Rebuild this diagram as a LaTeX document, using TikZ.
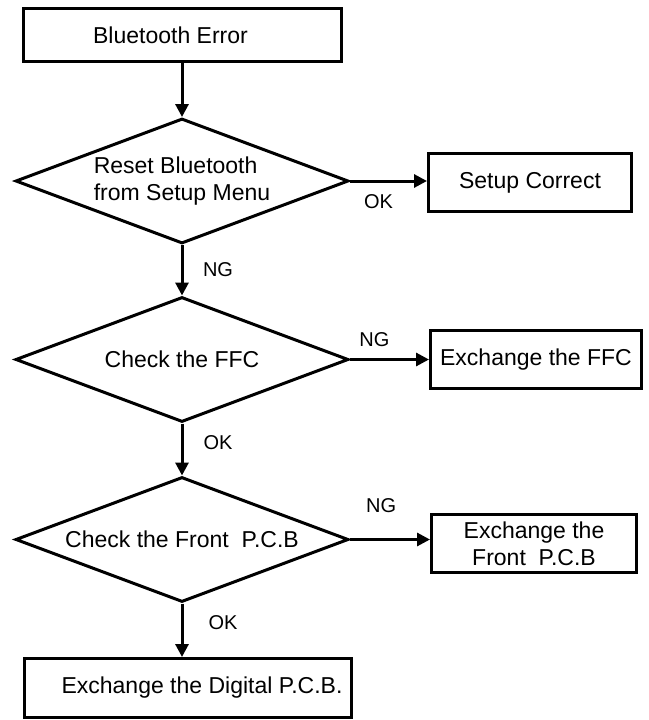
\documentclass[tikz,border=0pt]{standalone}
\usepackage{fontspec}
\setmainfont{Liberation Sans}
\usetikzlibrary{shapes.geometric,arrows.meta}
\begin{document}
\begin{tikzpicture}[x=1pt,y=-1pt,
  every node/.style={font=\fontsize{23pt}{27pt}\selectfont},
  boxnode/.style={draw, line width=3pt, rectangle, inner sep=0pt, align=center},
  decide/.style={draw, line width=3pt, diamond, inner sep=0pt, aspect=2.66,
                 minimum width=333pt, minimum height=125pt},
  conn/.style={line width=3pt, -{Triangle[length=13pt,width=13pt]}},
  lbl/.style={font=\fontsize{20pt}{24pt}\selectfont, inner sep=0pt}]
\useasboundingbox (0,0) rectangle (648,720);
\node[boxnode, minimum width=318pt, minimum height=53pt] (b1) at (182.5,35) {Bluetooth Error\hspace*{24pt}};
\node[decide, align=left] (d1) at (182,181) {Reset Bluetooth\\from Setup Menu};
\node[boxnode, minimum width=203pt, minimum height=58pt] (setup) at (530,182.5) {Setup Correct};
\node[decide] (d2) at (182,359.5) {Check the FFC};
\node[boxnode, minimum width=211pt, minimum height=58pt] (ffc) at (536,359.5) {Exchange the FFC};
\node[decide] (d3) at (182,539.5) {Check the Front\ \ P.C.B};
\node[boxnode, minimum width=205pt, minimum height=58pt] (front) at (534,543.5) {Exchange the\\Front\ \ P.C.B};
\node[boxnode, minimum width=327pt, minimum height=59pt] (last) at (188,688) {\hspace*{28pt}Exchange the Digital P.C.B.};

\draw[conn] (b1.south -| d1.north) -- (d1.north);
\draw[conn] (d1.east) -- (d1.east -| setup.west) node[lbl, pos=0.37, yshift=-21pt] {OK};
\draw[conn] (d1.south) -- (d2.north) node[lbl, pos=0.48, xshift=36pt] {NG};
\draw[conn] (d2.east) -- (d2.east -| ffc.west) node[lbl, pos=0.31, yshift=20pt] {NG};
\draw[conn] (d2.south) -- (d3.north) node[lbl, pos=0.36, xshift=36pt] {OK};
\draw[conn] (d3.east) -- (d3.east -| front.west) node[lbl, pos=0.39, yshift=34pt] {NG};
\draw[conn] (d3.south) -- (d3.south |- last.north) node[lbl, pos=0.36, xshift=41pt] {OK};
\end{tikzpicture}
\end{document}
